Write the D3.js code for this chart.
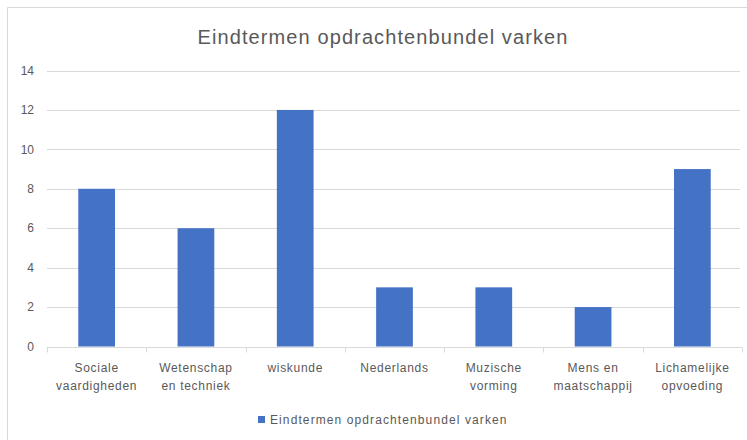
<!DOCTYPE html>
<html>
<head>
<meta charset="utf-8">
<script src="https://cdn.jsdelivr.net/npm/d3@7"></script>
<style>
  body { margin: 0; background: #fff; }
  svg { display: block; font-family: "Liberation Sans", Arial, sans-serif; }
</style>
</head>
<body>
<svg id="chart"></svg>
<script>
const categories = [
    ['Sociale', 'vaardigheden'],
    ['Wetenschap', 'en techniek'],
    ['wiskunde'],
    ['Nederlands'],
    ['Muzische', 'vorming'],
    ['Mens en', 'maatschappij'],
    ['Lichamelijke', 'opvoeding']
];
const values = [8, 6, 12, 3, 3, 2, 9];
const yTicks = [0, 2, 4, 6, 8, 10, 12, 14];
const title = 'Eindtermen opdrachtenbundel varken';
const seriesName = 'Eindtermen opdrachtenbundel varken';

const width = 747;
const height = 440;
const textColor = '#595959';
const gridColor = '#d9d9d9';
const barColor = '#4472c4';

const svg = d3.select('#chart')
    .attr('width', width)
    .attr('height', height);

// chart frame (only top and left visible in the crop)
svg.append('line')
    .attr('x1', 7.5).attr('y1', 7.5).attr('x2', width).attr('y2', 7.5)
    .style('stroke', gridColor);
svg.append('line')
    .attr('x1', 7.5).attr('y1', 7.5).attr('x2', 7.5).attr('y2', height)
    .style('stroke', gridColor);

const x = d3.scaleBand()
    .domain(d3.range(categories.length))
    .range([47, 742])
    .paddingInner(0.63)
    .paddingOuter(0.315);

const xOuter = d3.scaleBand()
    .domain(d3.range(categories.length))
    .range([47, 742]);

const y = d3.scaleLinear()
    .domain([0, 14])
    .range([346.5, 70.5]);

// gridlines
svg.append('g')
    .selectAll('line')
    .data(yTicks.filter(d => d > 0))
    .join('line')
    .attr('x1', 47)
    .attr('x2', 740)
    .attr('y1', d => Math.round(y(d)) + 0.5)
    .attr('y2', d => Math.round(y(d)) + 0.5)
    .style('stroke', gridColor)
    .style('stroke-width', 1);

// y tick labels
svg.append('g')
    .selectAll('text')
    .data(yTicks)
    .join('text')
    .attr('x', 34)
    .attr('y', d => y(d))
    .attr('dy', '0.35em')
    .attr('text-anchor', 'end')
    .style('font-size', '12px')
    .style('fill', textColor)
    .text(d => d);

// bars
svg.append('g')
    .selectAll('rect')
    .data(values)
    .join('rect')
    .attr('x', (d, i) => x(i))
    .attr('y', d => y(d))
    .attr('width', x.bandwidth())
    .attr('height', d => y(0) - y(d))
    .style('fill', barColor);

// x axis line and tick marks
const axisY = Math.round(y(0)) + 0.5;
svg.append('line')
    .attr('x1', 47).attr('x2', 742)
    .attr('y1', axisY).attr('y2', axisY)
    .style('stroke', gridColor);
svg.append('g')
    .selectAll('line')
    .data(d3.range(categories.length + 1))
    .join('line')
    .attr('x1', i => Math.round(47 + i * xOuter.step()) + 0.5)
    .attr('x2', i => Math.round(47 + i * xOuter.step()) + 0.5)
    .attr('y1', axisY)
    .attr('y2', axisY + 5)
    .style('stroke', gridColor);

// category labels
const catLabels = svg.append('g')
    .selectAll('text')
    .data(categories)
    .join('text')
    .attr('text-anchor', 'middle')
    .style('font-size', '12px')
    .style('letter-spacing', '0.7px')
    .style('fill', textColor)
    .attr('transform', (d, i) => `translate(${xOuter(i) + xOuter.bandwidth() / 2},${372})`);
catLabels.selectAll('tspan')
    .data(d => d)
    .join('tspan')
    .attr('x', 0)
    .attr('y', (d, i) => i * 18)
    .text(d => d);

// title
svg.append('text')
    .attr('x', 383)
    .attr('y', 44)
    .attr('text-anchor', 'middle')
    .style('font-size', '20px')
    .style('letter-spacing', '1.1px')
    .style('fill', textColor)
    .text(title);

// legend
svg.append('rect')
    .attr('x', 258).attr('y', 416)
    .attr('width', 7).attr('height', 7)
    .style('fill', barColor);
svg.append('text')
    .attr('x', 270)
    .attr('y', 420)
    .attr('dy', '0.35em')
    .style('font-size', '12px')
    .style('letter-spacing', '1.1px')
    .style('fill', textColor)
    .text(seriesName);
</script>
</body>
</html>
